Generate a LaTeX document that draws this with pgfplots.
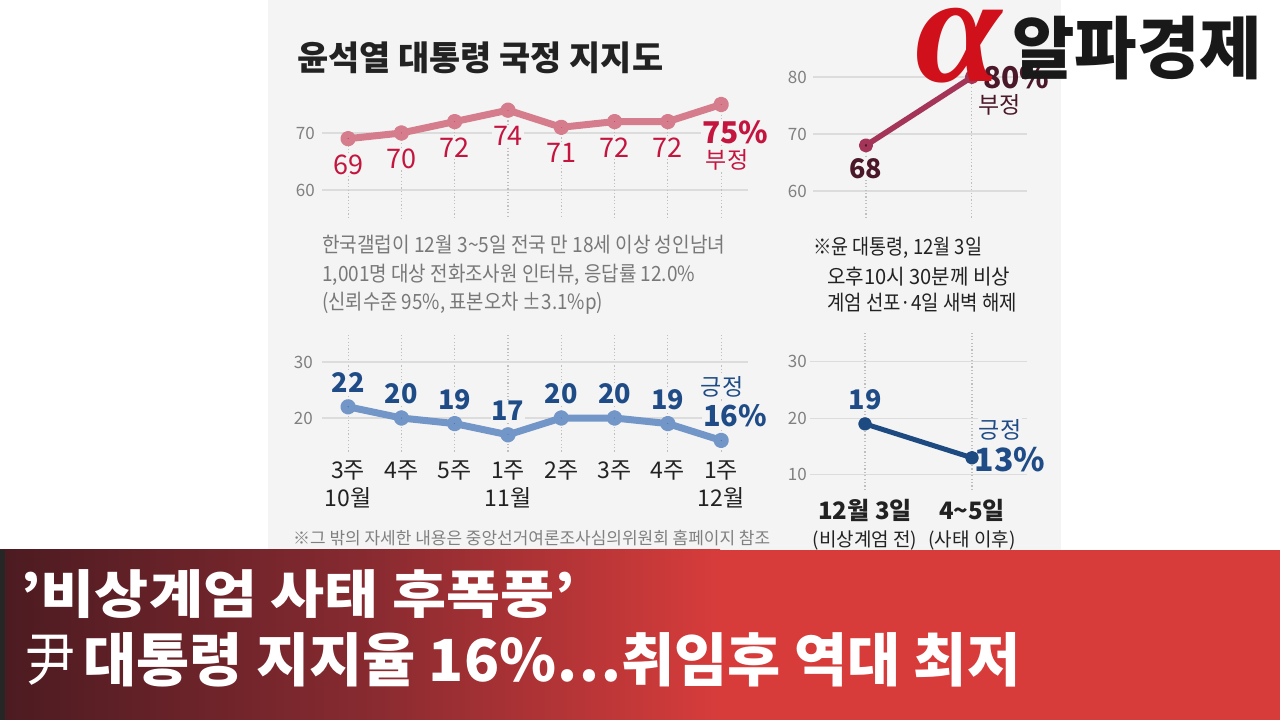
\documentclass[border=0pt]{standalone}
\usepackage{pgfplots}
\pgfplotsset{compat=1.18}
\usepackage{fontspec}
\setmainfont{Noto Sans CJK KR}
\newfontfamily\alphafont{Liberation Serif}
\usepackage{graphicx}

\definecolor{panel}{HTML}{F4F4F4}
\definecolor{gridc}{HTML}{DCDCDC}
\definecolor{negline}{HTML}{D57D8C}
\definecolor{negdot}{HTML}{C1103C}
\definecolor{neglab}{HTML}{C4153F}
\definecolor{marline}{HTML}{A43558}
\definecolor{mardot}{HTML}{4A1828}
\definecolor{posline}{HTML}{7396C8}
\definecolor{posdot}{HTML}{1D4A80}
\definecolor{poslab}{HTML}{1F4C86}
\definecolor{ticktxt}{HTML}{808080}
\definecolor{notetxt}{HTML}{787878}
\definecolor{darktxt}{HTML}{222222}
\definecolor{ban1}{HTML}{4B1B21}
\definecolor{ban2}{HTML}{862A30}
\definecolor{ban3}{HTML}{D73C3B}
\definecolor{logored}{HTML}{D0101B}

\newcommand{\fs}[2]{\fontsize{#1}{#2}\selectfont}
\newcommand{\hs}[2]{\resizebox{#1}{\height}{#2}}

\tikzset{vdots/.style={black!25, line width=1.1pt, dash pattern=on 1.2pt off 2.2pt}}
\pgfplotsset{
  chart/.style={
    scale only axis, clip=false,
    axis line style={draw=none},
    tick style={draw=none}, major tick length=0pt,
    ymajorgrids,
    every axis y grid/.style={gridc, line width=1.2pt},
    yticklabel style={font=\fs{17}{17}, text=ticktxt, anchor=east, inner sep=0pt},
  },
}

\begin{document}
\begin{tikzpicture}[x=1pt,y=1pt]
\useasboundingbox (0,0) rectangle (1280,720);
\fill[white] (0,0) rectangle (1280,720);
\fill[panel] (268,170) rectangle (1061,720);

% banner
\shade[left color=ban1, right color=ban3, middle color=ban2] (0,0) rectangle (720,170);
\fill[ban3] (719.5,0) rectangle (1280,170);
\fill[black!85] (0,0) rectangle (5,170);

% title and notes
\node[anchor=west, inner sep=0pt, text=darktxt] at (297,662) {\fs{34}{34}\bfseries\hs{366pt}{윤석열 대통령 국정 지지도}};
\node[anchor=west, inner sep=0pt, text=notetxt] at (322,475) {\fs{21}{21}\hs{403pt}{한국갤럽이 12월 3\textasciitilde 5일 전국 만 18세 이상 성인남녀}};
\node[anchor=west, inner sep=0pt, text=notetxt] at (322,445) {\fs{21}{21}\hs{373pt}{1,001명 대상 전화조사원 인터뷰, 응답률 12.0\%}};
\node[anchor=west, inner sep=0pt, text=notetxt] at (322,417) {\fs{21}{21}\hs{281pt}{(신뢰수준 95\%, 표본오차 ±3.1\%p)}};
\node[anchor=west, inner sep=0pt, text=darktxt] at (813,472) {\fs{21}{21}\hs{169pt}{※윤 대통령, 12월 3일}};
\node[anchor=west, inner sep=0pt, text=darktxt] at (827,443) {\fs{21}{21}\hs{183pt}{오후10시 30분께 비상}};
\node[anchor=west, inner sep=0pt, text=darktxt] at (827,417) {\fs{21}{21}\hs{190pt}{계엄 선포·4일 새벽 해제}};
\node[anchor=west, inner sep=0pt, text=ticktxt] at (293,182) {\fs{17}{17}\hs{477pt}{※그 밖의 자세한 내용은 중앙선거여론조사심의위원회 홈페이지 참조}};

% ---- top-left: negative
\begin{axis}[chart, at={(322pt,501.5pt)}, anchor=south west, width=425.8pt, height=119.7pt,
  xmin=-0.49, xmax=7.5, ymin=55, ymax=76, ytick={60,70}, yticklabels={60,70}, xtick=\empty,
  yticklabel style={xshift=-7pt}]
\addplot[only marks, mark=none, error bars/y dir=minus, error bars/y explicit,
  error bars/error mark=none, error bars/error bar style={vdots}]
  coordinates {(0,69) -= (0,14) (1,70) -= (0,15) (2,72) -= (0,17) (3,74) -= (0,19)
               (4,71) -= (0,16) (5,72) -= (0,17) (6,72) -= (0,17) (7,75) -= (0,20)};
\addplot[negline, line width=7pt, line join=round, mark=*, mark size=4.3pt,
  mark options={draw=none, fill=negdot}]
  coordinates {(0,69) (1,70) (2,72) (3,74) (4,71) (5,72) (6,72) (7,75)};
\addplot[only marks, mark=none, nodes near coords, point meta=explicit symbolic,
  every node near coord/.append style={anchor=center, font=\fs{27}{27}, text=neglab,
  fill=panel, inner sep=1pt, yshift=-26pt}]
  coordinates {(0,69) [69] (1,70) [70] (2,72) [72] (3,74) [74] (4,71) [71] (5,72) [72] (6,72) [72]};
\node[text=neglab, inner sep=1pt, fill=panel] at (axis cs:7,75) [xshift=14pt, yshift=-27.5pt] {\fs{30}{30}\bfseries 75\%};
\node[text=neglab, inner sep=1pt, fill=panel] at (axis cs:7,75) [xshift=6pt, yshift=-55.5pt] {\fs{23}{23}부정};
\end{axis}

% ---- top-right: negative before/after
\begin{axis}[chart, at={(813pt,500.5pt)}, anchor=south west, width=214pt, height=153.9pt,
  xmin=-0.5, xmax=1.52, ymin=55, ymax=82, ytick={60,70,80}, yticklabels={60,70,80}, xtick=\empty,
  yticklabel style={xshift=-6pt}]
\addplot[only marks, mark=none, error bars/y dir=minus, error bars/y explicit,
  error bars/error mark=none, error bars/error bar style={vdots}]
  coordinates {(0,68) -= (0,13) (1,80) -= (0,25)};
\addplot[marline, line width=5.5pt, line join=round, mark=*, mark size=4.3pt,
  mark options={draw=none, fill=mardot}]
  coordinates {(0,68) (1,80)};
\addplot[only marks, mark=none, nodes near coords, point meta=explicit symbolic,
  every node near coord/.append style={anchor=center, font=\fs{27}{27}\bfseries, text=mardot,
  fill=panel, inner sep=1pt, yshift=-23pt}]
  coordinates {(0,68) [68]};
\node[text=mardot, inner sep=0pt, anchor=west] at (axis cs:1,80) [xshift=11pt] {\fs{30}{30}\bfseries 80\%};
\node[text=mardot, inner sep=1pt, fill=panel] at (axis cs:1,80) [xshift=28pt, yshift=-28pt] {\fs{23}{23}부정};
\end{axis}

% ---- bottom-left: positive
\begin{axis}[chart, at={(322pt,268.4pt)}, anchor=south west, width=425.8pt, height=118.7pt,
  xmin=-0.49, xmax=7.5, ymin=14, ymax=35.2, ytick={20,30}, yticklabels={20,30},
  xtick={0,...,7}, xticklabels={{3주\\10월},4주,5주,{1주\\11월},2주,3주,4주,{1주\\12월}},
  xmajorgrids, every axis x grid/.style={vdots},
  xticklabel style={font=\fs{23}{28}, text=darktxt, align=center, anchor=north, inner sep=0pt, yshift=-9pt},
  yticklabel style={xshift=-9pt}]
\addplot[posline, line width=7pt, line join=round, mark=*, mark size=4.3pt,
  mark options={draw=none, fill=posdot}]
  coordinates {(0,22) (1,20) (2,19) (3,17) (4,20) (5,20) (6,19) (7,16)};
\addplot[only marks, mark=none, nodes near coords, point meta=explicit symbolic,
  every node near coord/.append style={anchor=center, font=\fs{27}{27}\bfseries, text=poslab,
  fill=panel, inner sep=1pt, yshift=24pt}]
  coordinates {(0,22) [22] (1,20) [20] (2,19) [19] (3,17) [17] (4,20) [20] (5,20) [20] (6,19) [19]};
\node[text=poslab, inner sep=1pt, fill=panel] at (axis cs:7,16) [xshift=1pt, yshift=54pt] {\fs{23}{23}긍정};
\node[text=poslab, inner sep=1pt, fill=panel] at (axis cs:7,16) [xshift=14pt, yshift=25pt] {\fs{29}{29}\bfseries 16\%};
\end{axis}

% ---- bottom-right: positive before/after
\begin{axis}[chart, at={(810pt,230pt)}, anchor=south west, width=217pt, height=157.1pt,
  xmin=-0.514, xmax=1.514, ymin=7.3, ymax=35.1, ytick={10,20,30}, yticklabels={10,20,30},
  xtick={0,1}, xticklabels={{\bfseries 12월 3일\\\mdseries\fs{19}{27}(비상계엄 전)},{\bfseries 4\textasciitilde 5일\\\mdseries\fs{19}{27}(사태 이후)}},
  xmajorgrids, every axis x grid/.style={vdots},
  xticklabel style={font=\fs{24}{27}, text=darktxt, align=center, anchor=north, inner sep=0pt, yshift=-9pt},
  yticklabel style={xshift=-3pt}]
\addplot[posdot, line width=5pt, line join=round, mark=*, mark size=4.3pt,
  mark options={draw=none, fill=posdot}]
  coordinates {(0,19) (1,13)};
\addplot[only marks, mark=none, nodes near coords, point meta=explicit symbolic,
  every node near coord/.append style={anchor=center, font=\fs{27}{27}\bfseries, text=poslab,
  fill=panel, inner sep=1pt, yshift=24pt}]
  coordinates {(0,19) [19]};
\node[text=poslab, inner sep=1pt, fill=panel] at (axis cs:1,13) [xshift=28pt, yshift=28pt] {\fs{23}{23}긍정};
\node[text=poslab, inner sep=1pt] at (axis cs:1,13) [xshift=38pt, yshift=-2pt] {\fs{32}{32}\bfseries 13\%};
\end{axis}

% logo
\node[inner sep=0pt, text=logored] at (958,674) {\resizebox{86pt}{!}{\alphafont\bfseries\itshape α}};
\node[anchor=west, inner sep=0pt, text=black!90] at (1012,672) {\fs{68}{68}\bfseries\hs{250pt}{알파경제}};

% banner text
\node[anchor=west, inner sep=0pt, text=white] at (20,126) {\fs{52}{52}\bfseries\hs{555pt}{'비상계엄 사태 후폭풍'}};
\node[anchor=west, inner sep=0pt, text=white] at (25,60) {\fs{58}{58}\hs{50pt}{尹}};
\node[anchor=west, inner sep=0pt, text=white] at (83,60) {\fs{58}{58}\bfseries\hs{937pt}{대통령 지지율 16\%…취임후 역대 최저}};
\end{tikzpicture}
\end{document}
